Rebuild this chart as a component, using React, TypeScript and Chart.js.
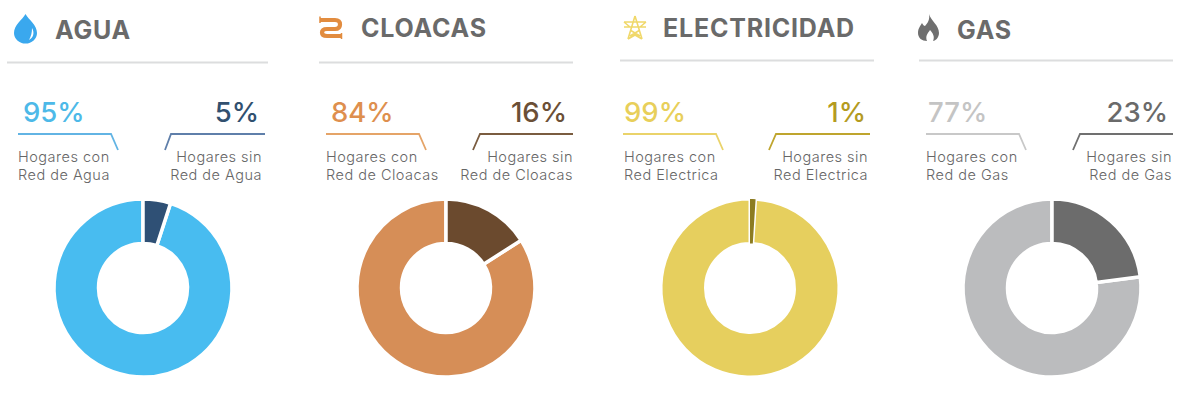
import React, { useEffect, useRef } from "react";
import { Chart, registerables } from "chart.js";

Chart.register(...registerables);

const titles = ["AGUA", "CLOACAS", "ELECTRICIDAD", "GAS"];
const conRed = [95, 84, 99, 77];
const sinRed = [5, 16, 1, 23];
const labelCon = ["Red de Agua", "Red de Cloacas", "Red Electrica", "Red de Gas"];
const labelSin = ["Red de Agua", "Red de Cloacas", "Red Electrica", "Red de Gas"];
const colorCon = ["#48BCF0", "#D68E57", "#E6CF5E", "#BBBCBE"];
const colorSin = ["#2F5075", "#6B4A2E", "#8C7C22", "#6C6C6C"];
const textCon = ["#4DB9E8", "#DE8F4E", "#E8CF5A", "#C4C4C4"];
const textSin = ["#31506F", "#6B4F36", "#B49B1F", "#6A6A6A"];
const lineCon = ["#62B4E4", "#E5A468", "#EAD36A", "#C8C8C8"];
const lineSin = ["#5F7FAA", "#7A5C40", "#BFA52E", "#707070"];
const borderCon = [3.5, 3.5, 3, 3.5];
const borderSin = [3.5, 3.5, 0, 3.5];

const layout = [
  { titleX: 55, ruleL: 7, ruleR: 268, ruleY: 62.5, pctL: 23, pctR: 259, lineL: 18, lineBend: 111, sinFoot: 165, sinBend: 171, lineR: 265, textL: 18, textR: 262, cx: 142.5, titleY: 29.5 },
  { titleX: 361, ruleL: 319, ruleR: 573, ruleY: 62.5, pctL: 331, pctR: 567, lineL: 326, lineBend: 419, sinFoot: 473, sinBend: 480, lineR: 573, textL: 326, textR: 573, cx: 446, titleY: 28 },
  { titleX: 663, ruleL: 620, ruleR: 874, ruleY: 60.5, pctL: 624, pctR: 866, lineL: 623, lineBend: 716, sinFoot: 769, sinBend: 776, lineR: 870, textL: 624, textR: 868, cx: 750, titleY: 28 },
  { titleX: 957, ruleL: 919, ruleR: 1173, ruleY: 60.5, pctL: 928, pctR: 1168, lineL: 926, lineBend: 1019, sinFoot: 1073, sinBend: 1080, lineR: 1173, textL: 926, textR: 1172, cx: 1052, titleY: 30 },
];

const FONT = "Inter, 'Noto Sans', sans-serif";
const CY = 288;
const BOX = 190;

function Donut({ index }: { index: number }) {
  const ref = useRef<HTMLCanvasElement>(null);
  useEffect(() => {
    const chart = new Chart(ref.current!, {
      type: "doughnut",
      data: {
        labels: ["Hogares con " + labelCon[index], "Hogares sin " + labelSin[index]],
        datasets: [
          {
            data: [conRed[index], sinRed[index]],
            backgroundColor: [colorCon[index], colorSin[index]],
            borderColor: "#ffffff",
            borderWidth: [borderCon[index], borderSin[index]],
          },
        ],
      },
      options: {
        animation: false,
        responsive: false,
        radius: 89,
        cutout: "50%",
        rotation: (sinRed[index] / (sinRed[index] + conRed[index])) * 360,
        layout: { padding: 0 },
        plugins: { legend: { display: false }, tooltip: { enabled: false } },
      } as any,
    });
    return () => chart.destroy();
  }, [index]);
  return (
    <canvas
      ref={ref}
      width={BOX}
      height={BOX}
      style={{ position: "absolute", left: layout[index].cx - BOX / 2, top: CY - BOX / 2, width: BOX, height: BOX }}
    />
  );
}

function Icons() {
  return (
    <svg width={1178} height={404} style={{ position: "absolute", left: 0, top: 0 }}>
      {/* drop */}
      <path d="M25.5 14 C29 20 37 25 37 33 A11.5 10.5 0 0 1 14 33 C14 25 22 20 25.5 14 Z" fill="#3AA8EE" />
      <path d="M32 28 C35 33 33 38 29 40 C31 36 32 33 32 28 Z" fill="#ffffff" />
      {/* pipes */}
      <path d="M320 20 H335 Q340 20 340 24.5 Q340 29 335 29 H327 Q322 29 322 32.5 Q322 36 327 36 H341" stroke="#E28C3F" strokeWidth={4.2} fill="none" />
      <path d="M320 16.5 V23 M341.5 33 V39" stroke="#E28C3F" strokeWidth={1.5} fill="none" />
      {/* pylon */}
      <g stroke="#F0D86A" strokeWidth={1.6} fill="none">
        <path d="M635 16 L628 39 M635 16 L642 39 M624 22 H646 M624 27 H646 M624 22 L630 27 M646 22 L640 27 M630 30 L640 36 M640 30 L630 36 M628 39 L635 35 L642 39" />
      </g>
      {/* flame */}
      <path d="M929 14 C931 21 939 25 939 33 C939 38 935 41 933 41 C935 37 933 33 930 30 C928 33 925 36 927 41 C922 41 918 38 918 33 C918 28 921 25 922 23 C923 25 924 26 925 26 C928 23 930 19 929 14 Z" fill="#6F6F6F" />
      {layout.map((l, i) => (
        <g key={i} fill="none">
          <line x1={l.ruleL} x2={l.ruleR} y1={l.ruleY} y2={l.ruleY} stroke="#DCDDDE" strokeWidth={2} />
          <path d={`M${l.lineL} 134 H${l.lineBend} L${l.lineBend + 7} 150`} stroke={lineCon[i]} strokeWidth={1.8} />
          <path d={`M${l.sinFoot} 150 L${l.sinBend} 134 H${l.lineR}`} stroke={lineSin[i]} strokeWidth={1.8} />
        </g>
      ))}
    </svg>
  );
}

function Text({ x, y, right, size, weight, color, spacing, children }: any) {
  const style: React.CSSProperties = {
    position: "absolute",
    top: y,
    fontFamily: FONT,
    fontSize: size,
    fontWeight: weight,
    color,
    letterSpacing: spacing,
    lineHeight: "18px",
    whiteSpace: "nowrap",
  };
  if (right) style.right = 1178 - x;
  else style.left = x;
  return <div style={style}>{children}</div>;
}

export default function App() {
  return (
    <div style={{ position: "absolute", left: 0, top: 0, width: 1178, height: 404, overflow: "hidden", background: "#fff" }}>
      <Icons />
      {titles.map((t, i) => {
        const l = layout[i];
        return (
          <React.Fragment key={t}>
            <Text x={l.titleX} y={l.titleY - 9} size={25} weight={700} color="#6A6A6A" spacing="0.8px">{t}</Text>
            <Text x={l.pctL} y={103} size={27.5} weight={500} color={textCon[i]}>{conRed[i]}%</Text>
            <Text x={l.pctR} y={103} right size={27.5} weight={500} color={textSin[i]}>{sinRed[i]}%</Text>
            <Text x={l.textL} y={148} size={14.5} weight={300} color="#666666" spacing="0.5px">Hogares con</Text>
            <Text x={l.textL} y={166} size={14.5} weight={300} color="#666666" spacing="0.5px">{labelCon[i]}</Text>
            <Text x={l.textR} y={148} right size={14.5} weight={300} color="#666666" spacing="0.5px">Hogares sin</Text>
            <Text x={l.textR} y={166} right size={14.5} weight={300} color="#666666" spacing="0.5px">{labelSin[i]}</Text>
            <Donut index={i} />
          </React.Fragment>
        );
      })}
    </div>
  );
}
